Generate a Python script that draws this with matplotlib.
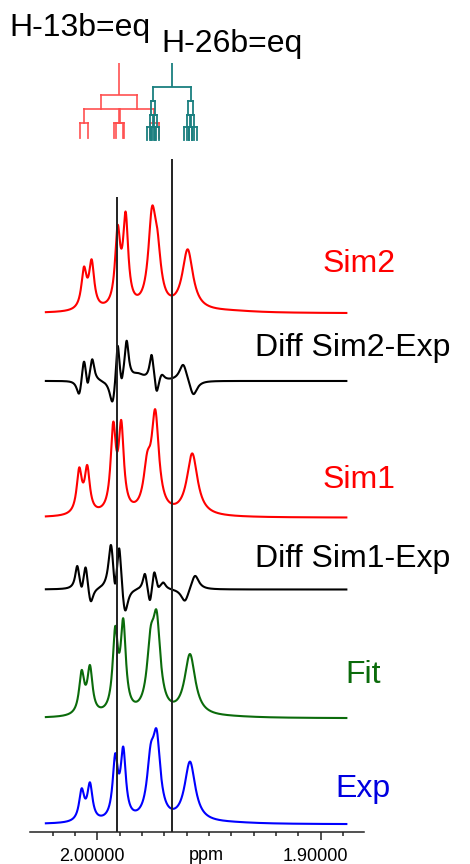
import numpy as np
import matplotlib
matplotlib.use("Agg")
import matplotlib.pyplot as plt
import matplotlib.transforms as mtransforms
from matplotlib.ticker import FixedLocator

plt.rcParams['font.family'] = ['Liberation Sans', 'DejaVu Sans']

# ---------------- data (ppm, intensities) ----------------
ppm_start, ppm_end = 2.023, 1.8885

sim2_ppm = [2.00595, 2.00251, 1.99087, 1.98729, 1.97551, 1.97314, 1.95953, 1.9405]
sim2_int = [46.7, 54.0, 88.3, 101.7, 106.7, 85.0, 64.0, 3.5]
sim2_fwhm = [0.0028, 0.0028, 0.0028, 0.0028, 0.0040, 0.0040, 0.0058, 0.03]

diff2_ppm = [2.00806, 2.00595, 2.00430, 2.00224, 1.99311, 1.99087, 1.98908, 1.98684,
             1.98178, 1.97565, 1.97341, 1.97117, 1.96150, 1.95703]
diff2_int = [-12.3, 19.3, -1.7, 21.7, -20.0, 35.0, 2.7, 40.3, 8.0, 26.0, -9.7, 6.0, 16.0, -13.0]
diff2_fwhm = [0.0027, 0.0022, 0.0016, 0.0022, 0.0032, 0.0019, 0.0016, 0.0022,
              0.0065, 0.0022, 0.0022, 0.0027, 0.0042, 0.0042]

sim1_ppm = [2.00806, 2.00448, 1.99284, 1.98926, 1.97762, 1.97404, 1.95748, 1.9405]
sim1_int = [50.3, 52.7, 96.0, 97.7, 66.0, 108.4, 64.3, 2.5]
sim1_fwhm = [0.0028, 0.0028, 0.0028, 0.0028, 0.0040, 0.0040, 0.0058, 0.03]

diff1_ppm = [2.00895, 2.00698, 2.00519, 2.00295, 1.99387, 1.99208, 1.99015, 1.98760,
             1.97865, 1.97641, 1.97449, 1.97269, 1.97046, 1.96074, 1.95627]
diff1_int = [23.5, 2.8, 22.0, -11.5, 44.5, 6.0, 41.0, -20.5, 15.5, -10.5, 17.0, 2.8, 7.0, -11.0, 13.5]
diff1_fwhm = [0.0022, 0.0016, 0.0022, 0.0027, 0.0027, 0.0016, 0.0022, 0.0032,
              0.0022, 0.0022, 0.0022, 0.0016, 0.0027, 0.0042, 0.0042]

fit_ppm = [2.00698, 2.00327, 1.99194, 1.98836, 1.97610, 1.97341, 1.95850, 1.9405]
fit_int = [48.3, 53.3, 92.3, 100.0, 91.7, 107.7, 64.3, 3.0]
fit_fwhm = [0.0028, 0.0028, 0.0028, 0.0028, 0.0040, 0.0040, 0.0058, 0.03]

exp_ppm = [2.00698, 2.00327, 1.99194, 1.98836, 1.97610, 1.97341, 1.95850, 1.9405]
exp_int = [36.0, 42.0, 71.0, 77.7, 80.3, 95.0, 62.7, 3.0]
exp_fwhm = [0.0028, 0.0028, 0.0028, 0.0028, 0.0040, 0.0040, 0.0058, 0.03]

marker_ppm = [1.99105, 1.96660]

# splitting trees: centre (ppm) and coupling constants (ppm)
h13_center = 1.99015
h13_J = [0.01611, 0.01544, 0.00390]
h26_center = 1.96656
h26_J = [0.01670, 0.00193, 0.00134, 0.00224]

labels = ['Sim2', 'Diff Sim2-Exp', 'Sim1', 'Diff Sim1-Exp', 'Fit', 'Exp']
tick_vals = [2.0, 1.9]
tick_labels = ['2.00000', '1.90000']
minor_vals = [2.02, 2.01, 1.99, 1.98, 1.97, 1.96, 1.95, 1.94, 1.93, 1.92, 1.91, 1.89]

# ---------------- figure ----------------
W, H = 470, 864
fig = plt.figure(figsize=(W / 100, H / 100), dpi=100)
AX_TOP = 832.0  # pixel row of the x axis
ax = fig.add_axes([30 / W, (H - AX_TOP) / H, 334 / W, AX_TOP / H])
ax.set_xlim(2.0301, 1.8806)
ax.set_ylim(0, AX_TOP)


def Y(py):
    return AX_TOP - py


def lor(x, c, w):
    return 1.0 / (1.0 + ((x - c) / (w / 2.0)) ** 2)


def spectrum(x, centers, heights, widths):
    c = np.asarray(centers, float)
    h = np.asarray(heights, float)
    w = np.asarray(widths, float)
    M = lor(c[:, None], c[None, :], w[None, :])
    amp = np.linalg.solve(M, h)
    return (amp[None, :] * lor(x[:, None], c[None, :], w[None, :])).sum(axis=1)


x = np.linspace(ppm_start, ppm_end, 3000)
traces = [
    (sim2_ppm, sim2_int, sim2_fwhm, 313.3, '#ff0000'),
    (diff2_ppm, diff2_int, diff2_fwhm, 381.0, '#000000'),
    (sim1_ppm, sim1_int, sim1_fwhm, 517.7, '#ff0000'),
    (diff1_ppm, diff1_int, diff1_fwhm, 589.5, '#000000'),
    (fit_ppm, fit_int, fit_fwhm, 718.3, '#0b6b0b'),
    (exp_ppm, exp_int, exp_fwhm, 824.3, '#0000ff'),
]
for c, h, w, base, col in traces:
    ax.plot(x, Y(base) + spectrum(x, c, h, w), color=col, lw=1.5, zorder=3)

# vertical marker lines
ax.vlines(marker_ppm, 0, [Y(197), Y(159)], color='#222222', lw=1.4, zorder=4)


# splitting trees
def draw_tree(center, couplings, levels, color):
    ax.plot([center, center], [Y(levels[0]), Y(levels[1])], color=color, lw=1.3,
            solid_capstyle='butt', clip_on=False)
    xs = [center]
    for k, J in enumerate(couplings):
        yb, yn = Y(levels[k + 1]), Y(levels[k + 2])
        new = []
        for x0 in xs:
            ax.plot([x0 - J / 2, x0 + J / 2], [yb, yb], color=color, lw=1.3, clip_on=False)
            for xc in (x0 - J / 2, x0 + J / 2):
                ax.plot([xc, xc], [yb, yn], color=color, lw=1.3, clip_on=False)
                new.append(xc)
        xs = new


draw_tree(h13_center, h13_J, [62.7, 95.0, 109.3, 123.3, 138.3], (1.0, 0.3, 0.3, 0.9))
draw_tree(h26_center, h26_J, [62.7, 86.7, 100.7, 115.0, 126.7, 140.0], '#1a7f7f')

# axis styling
for s in ('left', 'right', 'top'):
    ax.spines[s].set_visible(False)
ax.spines['bottom'].set_linewidth(1.1)
ax.spines['bottom'].set_color('#222222')
ax.set_yticks([])
ax.xaxis.set_major_locator(FixedLocator(tick_vals))
ax.set_xticklabels(tick_labels)
ax.xaxis.set_minor_locator(FixedLocator(minor_vals))
ax.tick_params(axis='x', which='major', direction='out', length=5.8, width=1.1,
               labelsize=13, pad=6, color='#222222')
ax.tick_params(axis='x', which='minor', direction='out', length=3.2, width=1.1,
               color='#222222')
shift = mtransforms.ScaledTranslation(-5 / 100, 0, fig.dpi_scale_trans)
for lab in ax.get_xticklabels():
    lab.set_transform(lab.get_transform() + shift)


def ftext(px, py, s, **kw):
    fig.text(px / W, 1 - py / H, s, **kw)


ftext(206, 860.0, 'ppm', fontsize=13, ha='center', va='baseline')

# titles
ftext(9, 36, 'H-13b=eq', fontsize=23, ha='left', va='baseline')
ftext(161, 51.7, 'H-26b=eq', fontsize=23, ha='left', va='baseline')

# trace labels
label_pos = [(323, 271.7, '#ff0000'), (255, 356, '#000000'), (323, 488, '#ff0000'),
             (255, 567, '#000000'), (345, 683.3, '#0b6b0b'), (335, 796.7, '#0000e0')]
for lab, (px, py, col) in zip(labels, label_pos):
    ftext(px, py, lab, fontsize=23, ha='left', va='baseline', color=col)

fig.savefig('out.png', dpi=100)
